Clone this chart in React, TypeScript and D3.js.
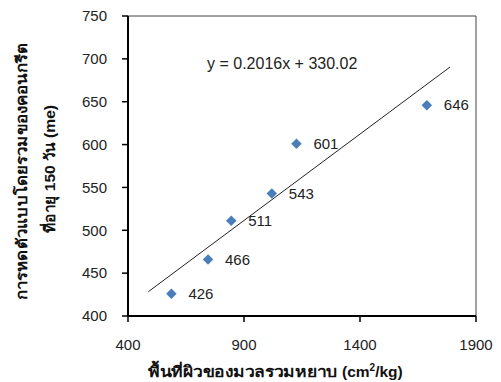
import * as d3 from 'd3';

const areas = [587, 745, 845, 1020, 1126, 1688];
const shrinkage = [426, 466, 511, 543, 601, 646];
const xTicks = [400, 900, 1400, 1900];
const yTicks = [400, 450, 500, 550, 600, 650, 700, 750];
const slope = 0.2016;
const intercept = 330.02;
const trendRange = [488, 1788];

const W = 501;
const H = 382;
const margin = { top: 16, right: 25, bottom: 66, left: 128 };

export default function App() {
  const x = d3.scaleLinear().domain([400, 1900]).range([margin.left, W - margin.right]);
  const y = d3.scaleLinear().domain([400, 750]).range([H - margin.bottom, margin.top]);
  const font = '"Liberation Sans", Arial, sans-serif';
  const blue = '#4a7ebb';

  const trend = d3.line<number>()
    .x(d => x(d))
    .y(d => y(slope * d + intercept));

  const diamond = d3.symbol().type(d3.symbolDiamond2).size(70)();

  const x0 = x(400), x1 = x(1900), y0 = y(400), y1 = y(750);

  return (
    <svg width={W} height={H} style={{ position: 'absolute', left: 0, top: 0, background: '#fff' }}>
      {/* frame */}
      <line x1={x0} x2={x1} y1={y1} y2={y1} stroke="#444" strokeWidth={1} />
      <line x1={x1} x2={x1} y1={y1} y2={y0} stroke="#444" strokeWidth={1} />
      <line x1={x0} x2={x0} y1={y1} y2={y0} stroke="#000" strokeWidth={2} />
      <line x1={x0} x2={x1} y1={y0} y2={y0} stroke="#000" strokeWidth={2} />

      {yTicks.map(t => (
        <g key={'y' + t}>
          <line x1={x0 - 6} x2={x0} y1={y(t)} y2={y(t)} stroke="#000" strokeWidth={1.5} />
          <text x={x0 - 21} y={y(t)} dy="0.35em" textAnchor="end" fontFamily={font} fontSize={15} fill="#222">{t}</text>
        </g>
      ))}
      {xTicks.map(t => (
        <g key={'x' + t}>
          <line x1={x(t)} x2={x(t)} y1={y0} y2={y0 + 6} stroke="#000" strokeWidth={1.5} />
          <text x={x(t)} y={y0 + 34} textAnchor="middle" fontFamily={font} fontSize={15} fill="#222">{t}</text>
        </g>
      ))}

      <path d={trend(trendRange) || ''} stroke="#222" strokeWidth={1} fill="none" />

      {areas.map((a, i) => (
        <g key={'p' + i}>
          <path d={diamond || ''} transform={`translate(${x(a)},${y(shrinkage[i])})`} fill={blue} />
          <text x={x(a) + 17} y={y(shrinkage[i])} dy="0.35em" fontFamily={font} fontSize={15} fill="#222">{shrinkage[i]}</text>
        </g>
      ))}

      <text x={207} y={69} fontFamily={font} fontSize={16} fill="#222">y = 0.2016x + 330.02</text>

      {/* y axis title, two lines */}
      <g transform="translate(27,0) rotate(-90)">
        <text x={-300} y={0} textLength={257} lengthAdjust="spacingAndGlyphs" fontFamily={font} fontWeight="bold" fontSize={15} fill="#111">การหดตัวแบบโดยรวมของคอนกรีต</text>
        <text x={-233} y={28} textLength={128} lengthAdjust="spacingAndGlyphs" fontFamily={font} fontWeight="bold" fontSize={15} fill="#111">ที่อายุ 150 วัน (me)</text>
      </g>

      {/* x axis title */}
      <text x={148} y={377} textLength={190} lengthAdjust="spacingAndGlyphs" fontFamily={font} fontWeight="bold" fontSize={15} fill="#111">พื้นที่ผิวของมวลรวมหยาบ</text>
      <text x={342} y={377} fontFamily={font} fontWeight="bold" fontSize={15.5} fill="#111">
        (cm<tspan dy={-6} fontSize={10}>2</tspan><tspan dy={6}>/kg)</tspan>
      </text>
    </svg>
  );
}
